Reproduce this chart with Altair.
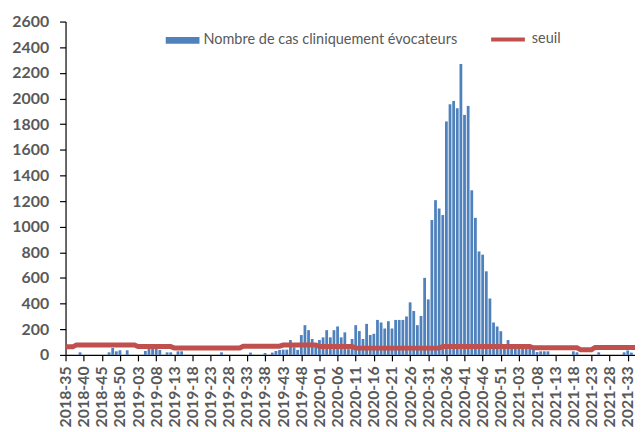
import altair as alt
import pandas as pd

# Semaines (catégories)
semaines = ([f"2018-{w:02d}" for w in range(35, 53)]
            + [f"2019-{w:02d}" for w in range(1, 53)]
            + [f"2020-{w:02d}" for w in range(1, 54)]
            + [f"2021-{w:02d}" for w in range(1, 36)])

# Nombre de cas cliniquement évocateurs
cas_2018 = [0, 0, 0, 0, 20, 0, 0, 0, 0, 0, 0, 0, 20, 54, 28, 36, 0, 36]
cas_2019 = [0, 0, 0, 0, 31, 46, 46, 85, 39, 0,
            20, 20, 0, 28, 28, 0, 0, 0, 0, 0,
            0, 0, 0, 0, 0, 20, 0, 0, 0, 0,
            0, 0, 0, 18, 0, 0, 0, 15, 0, 18,
            31, 39, 41, 41, 116, 59, 39, 155, 232, 193,
            124, 93]
cas_2020 = [116, 137, 193, 137, 193, 222, 137, 176, 45, 124,
            232, 186, 124, 242, 155, 165, 273, 253, 206, 263,
            206, 273, 273, 273, 300, 410, 343, 232, 304, 601,
            433, 1052, 1207, 1142, 1091, 1821, 1955, 1981, 1924, 2270,
            1872, 1942, 1284, 1069, 807, 782, 652, 440, 253, 222,
            185, 60, 116]
cas_2021 = [65, 60, 65, 85, 60, 55, 45, 22, 28, 28,
            28, 0, 0, 0, 0, 0, 0, 28, 20, 0,
            0, 0, 0, 0, 20, 0, 0, 0, 0, 0,
            0, 20, 35, 18, 0]

# Seuil
seuil_2018 = [63, 63, 63, 78, 78, 78, 78, 78, 78, 78, 78, 78, 78, 78, 78, 78, 78, 78]
seuil_2019 = [78, 78, 65, 65, 65, 65, 65, 65, 65, 65,
              65, 65, 54, 54, 54, 54, 54, 54, 54, 54,
              54, 54, 54, 54, 54, 54, 54, 54, 54, 54,
              54, 68, 68, 68, 68, 68, 68, 68, 68, 68,
              68, 68, 77, 77, 77, 77, 77, 77, 77, 77,
              77, 77]
seuil_2020 = [66, 66, 66, 66, 66, 66, 66, 66, 66, 66,
              53, 53, 53, 53, 53, 53, 53, 53, 53, 53,
              53, 53, 53, 53, 53, 53, 53, 53, 53, 53,
              53, 53, 53, 53, 66, 66, 66, 66, 66, 66,
              66, 66, 66, 66, 66, 66, 66, 66, 66, 66,
              66, 66, 66]
seuil_2021 = [66, 66, 66, 66, 66, 66, 56, 56, 56, 56,
              56, 56, 56, 56, 56, 56, 56, 56, 56, 41,
              41, 41, 41, 58, 58, 58, 58, 58, 58, 58,
              58, 58, 58, 58, 58]

graduations_y = [0, 200, 400, 600, 800, 1000, 1200, 1400, 1600, 1800, 2000, 2200, 2400, 2600]
etiquettes_x = semaines[::5]

nom_barres = "Nombre de cas cliniquement évocateurs"
nom_ligne = "seuil"

df = pd.DataFrame({
    "semaine": semaines,
    "cas": cas_2018 + cas_2019 + cas_2020 + cas_2021,
    "seuil": seuil_2018 + seuil_2019 + seuil_2020 + seuil_2021,
})

FONT = "Lato"
GRIS = "#595959"

x_enc = alt.X(
    "semaine:O",
    sort=semaines,
    scale=alt.Scale(type="point", padding=0),
    axis=alt.Axis(
        values=etiquettes_x, labelAngle=270, labelFont=FONT, labelFontWeight="bold",
        labelFontSize=16, labelColor=GRIS, tickColor="black", domainColor="black",
        tickSize=6, labelPadding=5, title=None, grid=False, labelOverlap=False,
        domainWidth=1.2, tickWidth=1.2,
    ),
)

y_axis = alt.Axis(
    values=graduations_y, format="d", labelFont=FONT, labelFontWeight="bold", labelFontSize=16,
    labelColor=GRIS, tickColor="black", domainColor="black", tickSize=6,
    labelPadding=11, title=None, grid=False, domainWidth=1.2, tickWidth=1.2,
)

barres = alt.Chart(df).transform_calculate(
    serie=f"'{nom_barres}'"
).mark_bar(size=2.8).encode(
    x=x_enc,
    y=alt.Y("cas:Q", scale=alt.Scale(domain=[0, 2600]), axis=y_axis),
    fill=alt.Fill(
        "serie:N",
        scale=alt.Scale(domain=[nom_barres], range=["#4F81BD"]),
        legend=alt.Legend(
            title=None, orient="none", legendX=101, legendY=2, padding=0,
            symbolType="M-1,-0.2H1V0.2H-1Z", symbolSize=1156, symbolStrokeWidth=0,
            labelFont=FONT, labelFontSize=14.6, labelColor=GRIS, labelOffset=4,
            labelLimit=0,
        ),
    ),
)

ligne = alt.Chart(df).transform_calculate(
    serie2=f"'{nom_ligne}'"
).mark_line(strokeWidth=5).encode(
    x=x_enc,
    y=alt.Y("seuil:Q", scale=alt.Scale(domain=[0, 2600]), axis=y_axis),
    stroke=alt.Stroke(
        "serie2:N",
        scale=alt.Scale(domain=[nom_ligne], range=["#C0504D"]),
        legend=alt.Legend(
            title=None, orient="none", legendX=427, legendY=-1, padding=0,
            symbolType="stroke", symbolSize=1156, symbolStrokeWidth=4,
            labelFont=FONT, labelFontSize=14.6, labelColor=GRIS, labelOffset=5,
            labelLimit=0,
        ),
    ),
)

chart = alt.layer(barres, ligne).resolve_scale(fill="independent", stroke="independent").properties(
    width=574,
    height=336,
    autosize=alt.AutoSizeParams(type="none"),
    padding={"left": 58, "top": 12, "right": 0, "bottom": 74},
    background="white",
).configure_view(stroke=None)

chart.save("out.html", embed_options={"renderer": "svg", "actions": False})
